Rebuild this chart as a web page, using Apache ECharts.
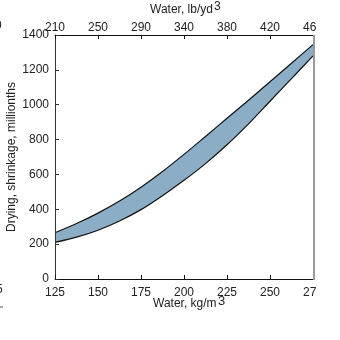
<!DOCTYPE html>
<html>
<head>
<meta charset="utf-8">
<style>
  html, body { margin: 0; padding: 0; background: #fff; }
  #chart { width: 340px; height: 340px; }
</style>
<script src="https://cdn.jsdelivr.net/npm/echarts@6/dist/echarts.min.js"></script>
</head>
<body>
<div id="chart"></div>
<script>
// Water content, kg/m3
const waterKg = [125, 137.5, 150, 162.5, 175, 187.5, 200, 212.5, 225, 237.5, 250, 262.5, 275];
// Drying shrinkage range, millionths (lower and upper bounds)
const shrinkLow  = [210, 240, 280, 333, 398, 478, 566, 662, 770, 890, 1020, 1150, 1280];
const shrinkHigh = [265, 318, 378, 447, 527, 617, 715, 818, 922, 1026, 1132, 1238, 1345];
// Same positions expressed in lb/yd3
const waterLbLabels = ['210', '250', '290', '340', '380', '420', '460'];
const shrinkTicks = [0, 200, 400, 600, 800, 1000, 1200, 1400];

const FONT = 'Liberation Sans, Arial, sans-serif';
const TXT = '#222';

const chart = echarts.init(document.getElementById('chart'), null, { renderer: 'canvas' });

const bandFill = '#8badc5';
const edge = { color: '#111', width: 1.2 };

function xAxisBase(pos) {
  return {
    type: 'value', position: pos, min: 125, max: 275, interval: 25, z: 10,
    axisLine: { show: true, lineStyle: { color: '#111', width: 1 } },
    axisTick: { show: true, inside: true, length: 4, lineStyle: { color: '#111' } },
    splitLine: { show: false }
  };
}

chart.setOption({
  animation: false,
  backgroundColor: '#fff',
  grid: { left: 55, right: 27, top: 35, bottom: 61, outerBoundsMode: 'none', containLabel: false },
  xAxis: [
    Object.assign(xAxisBase('bottom'), {
      axisLabel: { color: TXT, fontFamily: FONT, fontSize: 12, margin: 8 }
    }),
    Object.assign(xAxisBase('top'), {
      axisLabel: {
        color: TXT, fontFamily: FONT, fontSize: 12, margin: 1,
        formatter: v => waterLbLabels[Math.round((v - 125) / 25)] || ''
      }
    })
  ],
  yAxis: {
    type: 'value', min: shrinkTicks[0], max: shrinkTicks[shrinkTicks.length - 1], interval: 200, z: 10,
    axisLine: { show: true, lineStyle: { color: '#333', width: 1 } },
    axisTick: { show: true, inside: true, length: 4, lineStyle: { color: '#333' } },
    axisLabel: { color: TXT, fontFamily: FONT, fontSize: 12, margin: 6, formatter: v => String(v) },
    splitLine: { show: false },
    name: 'Drying, shrinkage, millionths',
    nameLocation: 'middle', nameGap: 37, nameRotate: 90, nameMoveOverlap: false,
    nameTextStyle: { color: TXT, fontFamily: FONT, fontSize: 12 }
  },
  series: [
    {
      // upper bound, filled down to the axis
      name: 'high', type: 'line', symbol: 'none', smooth: 0.3,
      data: waterKg.map((x, i) => [x, shrinkHigh[i]]),
      lineStyle: edge,
      areaStyle: { color: bandFill, opacity: 1 }, z: 2
    },
    {
      // lower bound, white below so only the band stays shaded
      name: 'low', type: 'line', symbol: 'none', smooth: 0.3,
      data: waterKg.map((x, i) => [x, shrinkLow[i]]),
      lineStyle: edge,
      areaStyle: { color: '#fff', opacity: 1 }, z: 3
    }
  ],
  graphic: [
    // axis titles with raised exponent
    { type: 'text', z: 50, left: 150, top: 4, style: { text: 'Water, lb/yd', fill: TXT, font: '12px ' + FONT } },
    { type: 'text', z: 50, left: 214, top: 1, style: { text: '3', fill: TXT, font: '12px ' + FONT } },
    { type: 'text', z: 50, left: 153, top: 298, style: { text: 'Water, kg/m', fill: TXT, font: '12px ' + FONT } },
    { type: 'text', z: 50, left: 218, top: 295, style: { text: '3', fill: TXT, font: '13px ' + FONT } },
    // right frame edge
    { type: 'line', z: 50, shape: { x1: 314, y1: 35, x2: 314, y2: 280 }, style: { stroke: '#999', lineWidth: 2 } },
    // page margin to the right of the frame
    { type: 'rect', z: 40, shape: { x: 316, y: 0, width: 24, height: 340 }, style: { fill: '#fff' } },
    // neighbouring labels at the left page edge
    { type: 'text', z: 50, left: -5, top: 20, style: { text: '0', fill: TXT, font: '12px ' + FONT } },
    { type: 'text', z: 50, left: -4, top: 284, style: { text: '5', fill: TXT, font: '12px ' + FONT } },
    { type: 'line', z: 50, shape: { x1: 0, y1: 307, x2: 3, y2: 307 }, style: { stroke: '#555', lineWidth: 1 } }
  ]
});
</script>
</body>
</html>
